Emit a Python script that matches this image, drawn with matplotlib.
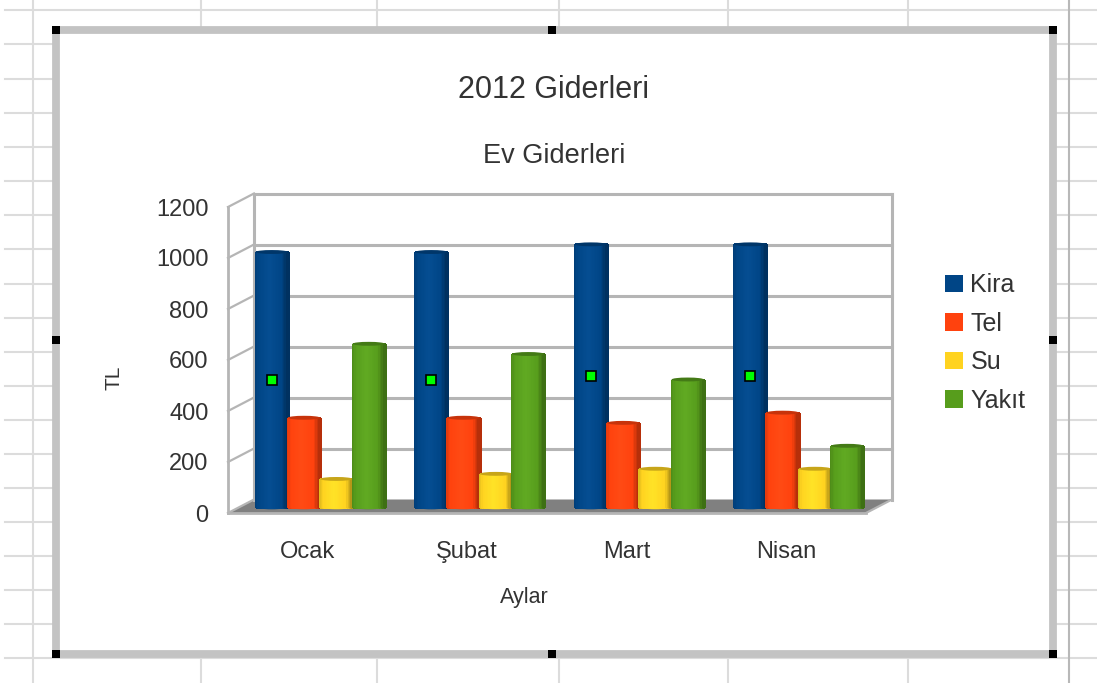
#!/usr/bin/env python3
import numpy as np
import matplotlib
matplotlib.use('Agg')
import matplotlib.pyplot as plt
from matplotlib.patches import Ellipse, Patch, Polygon
from matplotlib.colors import LinearSegmentedColormap, to_rgb
from matplotlib.transforms import Affine2D

plt.rcParams['font.family'] = ['Liberation Sans', 'DejaVu Sans']

# data
months = ['Ocak', 'Şubat', 'Mart', 'Nisan']
kira = [1000, 1000, 1030, 1030]
tel = [350, 350, 330, 370]
su = [110, 130, 150, 150]
yakit = [640, 600, 500, 240]
series_names = ['Kira', 'Tel', 'Su', 'Yakıt']
series_colors = ['#004586', '#ff420e', '#ffd320', '#579d1c']
yticks = [0, 200, 400, 600, 800, 1000, 1200]

W, H = 1097, 683
fig = plt.figure(figsize=(W / 100, H / 100), dpi=100, facecolor='white')

# spreadsheet behind the chart, in pixel coordinates
bg = fig.add_axes([0, 0, 1, 1], zorder=0)
bg.set_xlim(0, W)
bg.set_ylim(H, 0)
bg.axis('off')
for y in [10, 44, 79, 113, 147, 181, 215, 249, 284, 318, 352, 386, 420, 454,
          488, 522, 556, 590, 624, 658]:
    bg.plot([5, W], [y, y], color='#dcdcdc', lw=1.5, zorder=1)
for x in [33, 201, 377, 559, 728, 908]:
    bg.plot([x, x], [0, H], color='#dcdcdc', lw=1.5, zorder=1)
bg.plot([1069, 1069], [0, H], color='#b8b8b8', lw=1.5, zorder=1)

# chart object with selection frame and handles
bg.add_patch(plt.Rectangle((56, 30), 997, 624, fc='white', ec='#c3c3c3', lw=5.6, zorder=2))
for hx, hy in [(56, 30), (552, 30), (1053, 30), (56, 340), (1053, 340),
               (56, 654), (552, 654), (1053, 654)]:
    bg.add_patch(plt.Rectangle((hx - 4, hy - 4), 8, 8, fc='black', ec='none', zorder=3))

text_color = '#333333'
bg.text(554, 90, '2012 Giderleri', fontsize=22, color=text_color, ha='center', va='center', zorder=4)
bg.text(554, 156, 'Ev Giderleri', fontsize=19.5, color=text_color, ha='center', va='center', zorder=4)
bg.text(114, 378, 'TL', fontsize=15, color=text_color, rotation=90, ha='center', va='center', zorder=4)
bg.text(524, 597, 'Aylar', fontsize=15.5, color=text_color, ha='center', va='center', zorder=4)

# plot area = front plane of the 3D box
left, right, bottom, top = 228, 866, 513, 207
ax = fig.add_axes([left / W, 1 - bottom / H, (right - left) / W, (bottom - top) / H],
                  zorder=1, facecolor='none')
ax.set_xlim(-0.5, 3.5)
ax.set_ylim(0, 1200)
ax.set_xticks(range(len(months)), months)
ax.set_yticks(yticks)
ax.tick_params(axis='x', length=0, pad=20, labelsize=17, labelcolor=text_color)
ax.tick_params(axis='y', length=0, pad=14, labelsize=17, labelcolor=text_color)
for name, spine in ax.spines.items():
    spine.set_visible(name in ('left', 'bottom'))
    spine.set_color('#b5b5b5')
    spine.set_linewidth(2)

# depth offsets in pixels
back = ax.transData + Affine2D().translate(26, 13.5)
mid = ax.transData + Affine2D().translate(12.5, 6)
wall = '#b5b5b5'

# floor
x0, x1 = -0.5, 3.5
fwd = ax.transData
floor_px = [fwd.transform((x0, 0)), fwd.transform((x1, 0)), back.transform((x1, 0)), back.transform((x0, 0))]
ax.add_patch(Polygon(floor_px, closed=True, transform=None, fc='#808080', ec='none', clip_on=False, zorder=1))

# back and side walls
for t in yticks[1:]:
    ax.plot([x0, x1], [t, t], transform=back, color=wall, lw=2.2, clip_on=False, zorder=1)
for t in yticks:
    p, q = fwd.transform((x0, t)), back.transform((x0, t))
    ax.plot([p[0], q[0]], [p[1], q[1]], transform=None, color=wall, lw=1.6, clip_on=False, zorder=1)
p, q = fwd.transform((x1, 0)), back.transform((x1, 0))
ax.plot([p[0], q[0]], [p[1], q[1]], transform=None, color=wall, lw=1.6, clip_on=False, zorder=1)
for xv in (x0, x1):
    ax.plot([xv, xv], [0, 1200], transform=back, color=wall, lw=2.2, clip_on=False, zorder=1)


def shade_cmap(color):
    c = np.array(to_rgb(color))
    light = np.clip(c * 1.05 + 0.02, 0, 1)
    return LinearSegmentedColormap.from_list('s', [(0, c * 0.88), (0.12, c), (0.45, light), (0.82, c), (1, c * 0.68)])


# cylinders
bar_w = 0.2025
ell_h = 18
strip = np.linspace(0, 1, 25)
values = [kira, tel, su, yakit]
for s, vals in enumerate(values):
    color = series_colors[s]
    cmap = shade_cmap(color)
    for i, v in enumerate(vals):
        cx = i + (s - 1.5) * bar_w
        edges = cx - bar_w / 2 + strip * bar_w
        z = 5 + s
        ax.add_patch(Ellipse((cx, 0), bar_w, ell_h, transform=mid, fc=np.array(to_rgb(color)) * 0.95,
                             ec='none', clip_on=False, zorder=z))
        mesh = ax.pcolormesh(edges, [0, v], strip[:-1][None, :] + 0.02, cmap=cmap, vmin=0, vmax=1,
                             transform=mid, zorder=z, clip_on=False, shading='flat')
        mesh.set_edgecolor('face')
        ax.add_patch(Ellipse((cx, v), bar_w, ell_h * 0.85, transform=mid, fc=np.array(to_rgb(color)) * 0.78,
                             ec='none', clip_on=False, zorder=z + 0.5))

# selection markers on the first series
ax.plot(np.arange(len(kira)) - 1.5 * bar_w, np.array(kira) / 2, ls='none', marker='s', ms=6.5,
        mfc='#00ff00', mec='black', mew=1.2, transform=mid, clip_on=False, zorder=20)

ax.set_xlim(-0.5, 3.5)
ax.set_ylim(0, 1200)

handles = [Patch(fc=c, ec='none', label=n) for n, c in zip(series_names, series_colors)]
fig.legend(handles=handles, loc='center left', bbox_to_anchor=(935 / W, 1 - 343 / H), frameon=False,
           fontsize=18, labelcolor=text_color, handlelength=0.72, handleheight=0.72,
           handletextpad=0.3, labelspacing=0.58, borderaxespad=0, borderpad=0.4)

fig.savefig('out.png', dpi=100, facecolor='white')
